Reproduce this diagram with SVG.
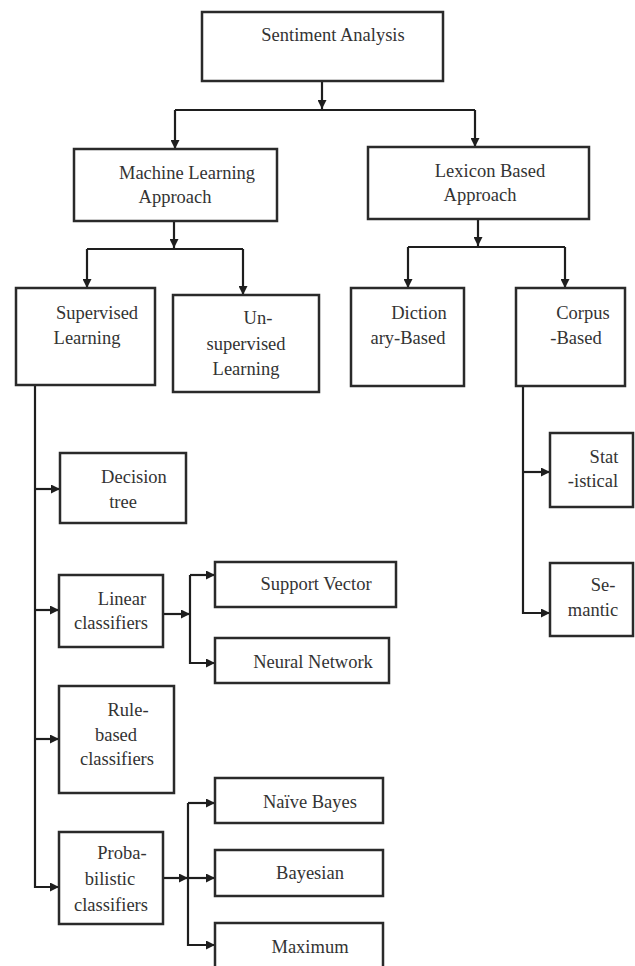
<svg xmlns="http://www.w3.org/2000/svg" width="635" height="966" viewBox="0 0 635 966">
<defs>
<marker id="ah" markerWidth="9" markerHeight="9" refX="9" refY="4.5" orient="auto" markerUnits="userSpaceOnUse">
<path d="M0,0 L9,4.5 L0,9 z" fill="#1e1e1e"/>
</marker>
<style>
.box{fill:#fff;stroke:#2a2a2a;stroke-width:2.5}
.t{font-family:"Liberation Serif","Times New Roman",serif;font-size:18.5px;fill:#333;text-anchor:middle}
.c{fill:none;stroke:#1e1e1e;stroke-width:2.2}
.a{marker-end:url(#ah)}
</style>
</defs>
<rect width="635" height="966" fill="#fff"/>
<g id="connectors">
<path class="c a" d="M322,82 V109"/>
<path class="c" d="M175,110 H475"/>
<path class="c a" d="M175,110 V149"/>
<path class="c a" d="M475,110 V147"/>
<path class="c a" d="M174,221 V248"/>
<path class="c" d="M87,249 H243"/>
<path class="c a" d="M87,249 V288"/>
<path class="c a" d="M243,249 V295"/>
<path class="c a" d="M478,219 V246"/>
<path class="c" d="M408,247 H565"/>
<path class="c a" d="M408,247 V288"/>
<path class="c a" d="M565,247 V288"/>
<path class="c a" d="M35,385 V887 H59"/>
<path class="c a" d="M35,489 H60"/>
<path class="c a" d="M35,610 H59"/>
<path class="c a" d="M35,739 H59"/>
<path class="c a" d="M163,614 H190"/>
<path class="c a" d="M190,575 H215"/>
<path class="c a" d="M190,575 V663 H215"/>
<path class="c a" d="M163,878 H188"/>
<path class="c a" d="M188,803 H215"/>
<path class="c a" d="M188,878 H215"/>
<path class="c a" d="M188,803 V945 H215"/>
<path class="c a" d="M523,386 V613 H550"/>
<path class="c a" d="M523,472 H550"/>
</g>
<g id="sentiment"><rect class="box" x="202" y="12" width="241" height="69"/><text class="t" x="333" y="41">Sentiment Analysis</text></g>
<g id="ml"><rect class="box" x="74" y="149" width="203" height="72"/><text class="t" x="187" y="179">Machine Learning</text><text class="t" x="175" y="203">Approach</text></g>
<g id="lexicon"><rect class="box" x="368" y="147" width="221" height="72"/><text class="t" x="490" y="177">Lexicon Based</text><text class="t" x="480" y="201">Approach</text></g>
<g id="supervised"><rect class="box" x="16" y="288" width="139" height="97"/><text class="t" x="97" y="319">Supervised</text><text class="t" x="87" y="344">Learning</text></g>
<g id="unsupervised"><rect class="box" x="173" y="295" width="146" height="97"/><text class="t" x="258" y="324">Un-</text><text class="t" x="246" y="350">supervised</text><text class="t" x="246" y="375">Learning</text></g>
<g id="dictionary"><rect class="box" x="351" y="288" width="113" height="98"/><text class="t" x="419" y="319">Diction</text><text class="t" x="408" y="344">ary-Based</text></g>
<g id="corpus"><rect class="box" x="516" y="288" width="109" height="98"/><text class="t" x="583" y="319">Corpus</text><text class="t" x="576" y="344">-Based</text></g>
<g id="statistical"><rect class="box" x="550" y="433" width="83" height="74"/><text class="t" x="604" y="463">Stat</text><text class="t" x="593" y="487">-istical</text></g>
<g id="semantic"><rect class="box" x="550" y="563" width="83" height="73"/><text class="t" x="603" y="591">Se-</text><text class="t" x="593" y="616">mantic</text></g>
<g id="decision"><rect class="box" x="60" y="453" width="126" height="70"/><text class="t" x="134" y="483">Decision</text><text class="t" x="123" y="508">tree</text></g>
<g id="linear"><rect class="box" x="59" y="575" width="104" height="72"/><text class="t" x="122" y="605">Linear</text><text class="t" x="111" y="629">classifiers</text></g>
<g id="svm"><rect class="box" x="215" y="562" width="181" height="45"/><text class="t" x="316" y="590">Support Vector</text></g>
<g id="nn"><rect class="box" x="215" y="638" width="174" height="45"/><text class="t" x="313" y="668">Neural Network</text></g>
<g id="rule"><rect class="box" x="59" y="686" width="115" height="107"/><text class="t" x="128" y="716">Rule-</text><text class="t" x="116" y="741">based</text><text class="t" x="117" y="765">classifiers</text></g>
<g id="prob"><rect class="box" x="59" y="832" width="104" height="92"/><text class="t" x="122" y="859">Proba-</text><text class="t" x="110" y="885">bilistic</text><text class="t" x="111" y="911">classifiers</text></g>
<g id="naive"><rect class="box" x="215" y="778" width="168" height="45"/><text class="t" x="310" y="808">Naïve Bayes</text></g>
<g id="bayesian"><rect class="box" x="215" y="850" width="168" height="46"/><text class="t" x="310" y="879">Bayesian</text></g>
<g id="maximum"><rect class="box" x="215" y="923" width="168" height="60"/><text class="t" x="310" y="953">Maximum</text></g>
</svg>
